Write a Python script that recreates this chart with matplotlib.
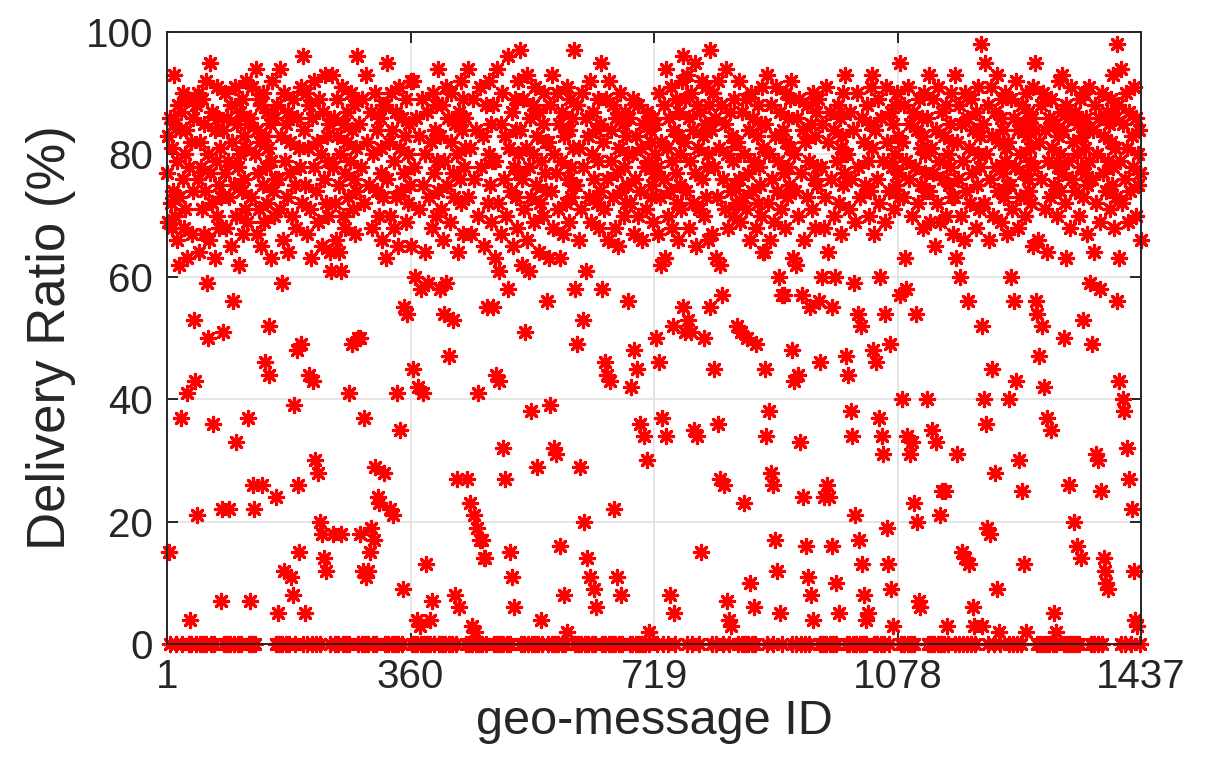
import numpy
import matplotlib
matplotlib.use("Agg")
import matplotlib.pyplot as plt

# Delivery ratio (%) of every geo-message, in ID order (40 messages per row)
delivery_ratio = [
    77, 83, 69, 15, 86, 0, 72, 68, 81, 74, 93, 85, 70, 0, 79, 66, 88, 73, 62, 84, 37, 87, 0, 76, 90, 68, 80, 71, 84, 63, 41, 89, 0, 78, 4, 82, 0, 67, 74, 86,
    53, 43, 88, 0, 21, 76, 90, 64, 0, 82, 78, 71, 89, 0, 67, 85, 74, 92, 0, 59, 50, 80, 66, 77, 95, 0, 87, 72, 36, 0, 84, 63, 79, 91, 70, 86, 75, 68, 81, 73,
    7, 22, 51, 84, 0, 77, 90, 68, 0, 86, 79, 73, 22, 0, 88, 65, 82, 56, 75, 0, 91, 70, 33, 85, 0, 78, 62, 87, 80, 0, 74, 89, 67, 83, 76, 71, 92, 81, 69, 85,
    37, 0, 86, 7, 73, 0, 91, 26, 22, 80, 0, 94, 67, 84, 77, 89, 71, 82, 65, 88, 26, 75, 90, 69, 83, 46, 78, 87, 72, 81, 44, 52, 85, 63, 79, 92, 74, 70, 86, 76,
    24, 0, 88, 76, 5, 0, 94, 71, 83, 0, 59, 66, 90, 12, 79, 0, 85, 73, 64, 87, 0, 77, 82, 11, 70, 89, 8, 39, 0, 75, 68, 48, 86, 26, 15, 81, 78, 49, 91, 72,
    96, 0, 84, 75, 5, 90, 67, 0, 81, 44, 88, 71, 63, 0, 86, 43, 78, 92, 30, 0, 74, 82, 69, 28, 89, 20, 0, 80, 65, 18, 87, 76, 14, 93, 72, 12, 83, 79, 70, 85,
    64, 0, 61, 93, 18, 78, 86, 0, 72, 66, 83, 89, 0, 75, 64, 80, 61, 18, 91, 0, 70, 85, 77, 68, 0, 87, 82, 73, 41, 0, 79, 90, 84, 49, 71, 76, 88, 67, 81, 74,
    96, 50, 0, 85, 18, 50, 78, 0, 89, 12, 72, 37, 0, 93, 11, 82, 12, 0, 75, 15, 87, 19, 68, 0, 80, 17, 90, 29, 0, 74, 84, 24, 70, 23, 86, 77, 81, 66, 88, 73,
    28, 88, 0, 63, 95, 76, 0, 82, 22, 70, 90, 0, 84, 21, 68, 79, 0, 87, 73, 41, 65, 0, 91, 81, 35, 74, 86, 0, 9, 77, 55, 83, 69, 89, 54, 72, 80, 85, 75, 92,
    65, 0, 92, 45, 78, 0, 60, 86, 4, 0, 42, 71, 83, 3, 0, 58, 89, 41, 75, 0, 64, 80, 13, 0, 87, 59, 73, 4, 0, 82, 7, 68, 90, 0, 77, 84, 70, 88, 79, 74,
    94, 0, 58, 83, 71, 0, 88, 66, 54, 79, 0, 91, 59, 75, 86, 0, 47, 69, 82, 90, 0, 77, 53, 73, 85, 8, 0, 80, 27, 64, 87, 6, 76, 92, 72, 84, 67, 89, 78, 81,
    86, 0, 27, 94, 73, 0, 23, 81, 67, 3, 0, 89, 21, 76, 2, 0, 84, 19, 70, 41, 0, 91, 17, 78, 17, 0, 83, 14, 65, 14, 0, 88, 55, 72, 80, 92, 75, 85, 69, 79,
    55, 88, 0, 63, 79, 44, 0, 94, 72, 61, 43, 0, 85, 67, 90, 32, 0, 76, 83, 27, 70, 0, 96, 58, 81, 15, 0, 74, 87, 11, 65, 78, 6, 89, 73, 84, 68, 80, 92, 77,
    97, 84, 0, 62, 76, 89, 71, 0, 51, 81, 66, 93, 0, 78, 61, 86, 73, 38, 0, 88, 80, 69, 0, 91, 75, 29, 83, 0, 64, 87, 72, 79, 4, 0, 85, 70, 90, 77, 82, 74,
    56, 82, 0, 63, 39, 88, 74, 0, 93, 68, 32, 80, 0, 77, 31, 90, 71, 0, 85, 63, 16, 79, 0, 87, 67, 8, 83, 0, 72, 2, 91, 76, 84, 69, 89, 78, 73, 86, 81, 75,
    97, 58, 0, 75, 88, 49, 0, 66, 81, 29, 71, 0, 90, 53, 78, 20, 0, 86, 61, 14, 83, 0, 73, 92, 11, 69, 0, 80, 87, 9, 76, 0, 84, 6, 72, 89, 79, 68, 85, 74,
    95, 58, 0, 82, 71, 46, 0, 89, 76, 44, 66, 0, 92, 43, 79, 84, 0, 73, 88, 22, 68, 0, 86, 77, 11, 65, 0, 81, 90, 8, 74, 0, 85, 70, 78, 87, 72, 83, 75, 80,
    56, 86, 0, 72, 42, 80, 0, 89, 67, 48, 76, 0, 83, 45, 70, 88, 0, 74, 36, 81, 66, 0, 85, 34, 78, 0, 71, 30, 87, 79, 2, 0, 84, 73, 82, 75, 69, 86, 77, 80,
    85, 50, 0, 78, 67, 90, 46, 73, 82, 62, 37, 0, 88, 76, 63, 94, 34, 81, 70, 0, 86, 74, 8, 91, 79, 68, 52, 84, 5, 0, 77, 89, 72, 83, 66, 87, 75, 80, 71, 92,
    96, 55, 82, 51, 89, 74, 0, 93, 53, 68, 86, 79, 51, 90, 0, 72, 84, 35, 77, 95, 65, 88, 34, 81, 71, 0, 87, 15, 76, 92, 83, 70, 50, 85, 73, 91, 78, 66, 80, 88,
    97, 55, 84, 0, 67, 90, 45, 78, 86, 63, 0, 73, 36, 92, 81, 27, 62, 88, 57, 0, 76, 26, 71, 85, 94, 7, 80, 68, 4, 0, 87, 3, 74, 83, 79, 70, 89, 75, 82, 72,
    52, 82, 0, 76, 92, 69, 51, 0, 87, 73, 23, 80, 0, 71, 89, 50, 77, 0, 84, 66, 10, 90, 0, 74, 86, 6, 79, 0, 68, 49, 83, 72, 88, 78, 75, 85, 70, 91, 81, 64,
    64, 45, 85, 34, 0, 93, 72, 38, 80, 66, 28, 88, 76, 26, 0, 69, 83, 17, 91, 74, 12, 79, 60, 87, 5, 71, 0, 57, 84, 77, 57, 68, 90, 82, 73, 86, 78, 75, 89, 81,
    92, 48, 0, 63, 80, 43, 74, 62, 0, 86, 44, 70, 89, 33, 0, 77, 57, 84, 24, 66, 0, 82, 16, 73, 88, 11, 0, 79, 55, 85, 8, 71, 90, 4, 76, 83, 68, 87, 78, 75,
    89, 56, 0, 46, 78, 60, 85, 0, 68, 24, 73, 91, 0, 26, 82, 64, 24, 0, 87, 76, 55, 16, 0, 70, 84, 60, 10, 0, 79, 88, 5, 72, 86, 81, 67, 83, 75, 90, 77, 80,
    93, 47, 0, 80, 44, 71, 0, 87, 38, 76, 34, 0, 84, 59, 69, 21, 0, 90, 54, 78, 17, 0, 73, 52, 86, 13, 0, 82, 8, 75, 4, 0, 88, 5, 79, 70, 85, 74, 91, 81,
    93, 48, 0, 67, 84, 46, 76, 0, 89, 37, 72, 60, 0, 86, 34, 79, 31, 0, 69, 54, 91, 19, 82, 13, 0, 74, 49, 87, 9, 78, 3, 85, 71, 88, 80, 75, 90, 83, 77, 73,
    95, 57, 0, 82, 40, 73, 88, 0, 63, 58, 79, 34, 0, 91, 76, 31, 85, 0, 33, 70, 87, 23, 0, 78, 54, 84, 20, 72, 7, 89, 6, 81, 75, 86, 68, 83, 90, 77, 80, 74,
    86, 40, 0, 93, 74, 69, 0, 81, 35, 89, 77, 0, 65, 84, 33, 72, 0, 91, 79, 21, 69, 0, 87, 25, 76, 83, 0, 25, 70, 88, 3, 80, 0, 75, 85, 78, 90, 73, 82, 67,
    73, 93, 0, 63, 82, 31, 76, 0, 88, 60, 70, 85, 15, 0, 79, 66, 90, 14, 74, 0, 86, 56, 81, 13, 72, 0, 89, 77, 6, 84, 3, 0, 68, 87, 75, 91, 80, 71, 83, 78,
    98, 52, 3, 85, 40, 72, 95, 36, 80, 19, 88, 0, 66, 18, 76, 91, 45, 83, 70, 0, 87, 28, 78, 9, 93, 74, 82, 2, 0, 86, 69, 89, 77, 84, 73, 90, 79, 81, 75, 67,
    82, 40, 0, 75, 89, 60, 71, 0, 86, 56, 78, 43, 92, 0, 68, 84, 30, 80, 73, 0, 88, 25, 77, 85, 13, 70, 90, 2, 83, 76, 87, 74, 81, 79, 72, 86, 65, 91, 78, 84,
    95, 56, 0, 54, 66, 82, 47, 0, 88, 76, 52, 0, 90, 42, 71, 84, 0, 64, 37, 79, 86, 0, 73, 35, 89, 81, 0, 75, 5, 85, 2, 0, 70, 83, 78, 92, 74, 80, 87, 77,
    93, 84, 0, 50, 72, 88, 63, 0, 79, 86, 26, 0, 68, 91, 76, 0, 82, 20, 87, 74, 0, 80, 16, 85, 70, 0, 89, 78, 14, 83, 53, 73, 90, 77, 81, 86, 75, 67, 84, 79,
    91, 59, 0, 76, 49, 84, 64, 0, 88, 31, 72, 80, 30, 0, 86, 58, 69, 25, 90, 0, 77, 14, 83, 12, 74, 10, 87, 9, 79, 85, 71, 89, 82, 75, 93, 78, 68, 86, 81, 73,
    98, 56, 88, 63, 43, 79, 0, 94, 72, 40, 85, 38, 76, 0, 90, 32, 81, 69, 27, 87, 74, 0, 22, 83, 78, 12, 91, 4, 70, 86, 3, 80, 75, 84, 77, 0, 66,
]

x_ticks = [1, 360, 719, 1078, 1437]
y_ticks = [0, 20, 40, 60, 80, 100]

plt.rcParams['font.family'] = ['Liberation Sans', 'DejaVu Sans']

message_id = numpy.arange(1, len(delivery_ratio) + 1)

fig = plt.figure(figsize=(12.21, 7.58), dpi=100)
ax = fig.add_axes([0.1368, 0.1504, 0.7977, 0.8074])

ax.grid(True, color='#e3e3e3', linewidth=1.3, zorder=0)
ax.set_axisbelow(True)

ax.scatter(message_id, delivery_ratio, marker=(8, 2, 0), s=105,
           color='#ff0000', linewidths=2.3, clip_on=False, zorder=3)

ax.set_xlim(1, 1437)
ax.set_ylim(0, 100)
ax.set_xticks(x_ticks)
ax.set_yticks(y_ticks)

# MATLAB-like box with inward ticks on all four sides
for side in ax.spines.values():
    side.set_color('#262626')
    side.set_linewidth(1.4)
    side.set_zorder(4)
ax.tick_params(direction='in', length=8, width=1.4, color='#262626',
               top=True, right=True, labelsize=29, labelcolor='#262626', pad=10)

ax.set_xlabel('geo-message ID', fontsize=35, color='#262626', labelpad=2)
ax.set_ylabel('Delivery Ratio (%)', fontsize=38, color='#262626', labelpad=7)

fig.savefig('out.png', dpi=100)
